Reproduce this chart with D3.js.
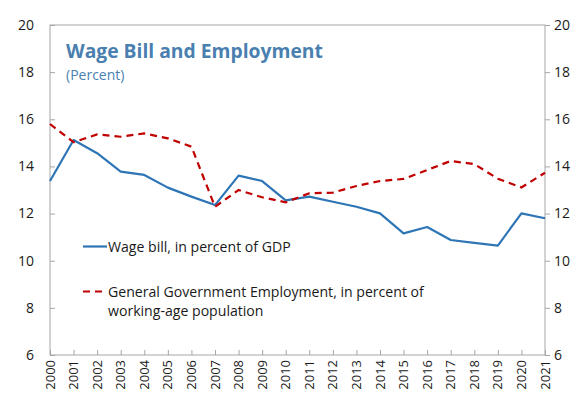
<!DOCTYPE html>
<html>
<head>
<meta charset="utf-8">
<script src="https://cdn.jsdelivr.net/npm/d3@7"></script>
<style>
  html, body { margin: 0; padding: 0; background: #fff; }
  svg { display: block; font-family: "Open Sans", "Noto Sans", sans-serif; }
</style>
</head>
<body>
<svg id="chart" width="581" height="399"></svg>
<script>
// Years on the horizontal axis
const years = d3.range(2000, 2022);

// Wage bill, in percent of GDP
const wageBill = [13.38, 15.12, 14.56, 13.78, 13.64, 13.10, 12.72, 12.36, 13.61, 13.38, 12.56,
                  12.72, 12.50, 12.29, 12.01, 11.16, 11.43, 10.88, 10.76, 10.64, 12.01, 11.80];

// General government employment, in percent of working-age population
const govEmployment = [15.80, 15.03, 15.36, 15.26, 15.40, 15.19, 14.84, 12.29, 13.00, 12.69, 12.48,
                       12.86, 12.89, 13.17, 13.38, 13.47, 13.85, 14.23, 14.10, 13.48, 13.11, 13.73];

// Value axis ticks
const yTicks = [6, 8, 10, 12, 14, 16, 18, 20];

const svg = d3.select("#chart");
const margin = { left: 50, right: 36, top: 25, bottom: 44 };
const W = 581, H = 399;
const x0 = margin.left, x1 = W - margin.right;
const y0 = H - margin.bottom, y1 = margin.top;

const x = d3.scaleLinear().domain([2000, 2021]).range([x0, x1]);
const y = d3.scaleLinear().domain([6, 20]).range([y0, y1]);

const axisColor = "#a6a6a6";
const textColor = "#1a1a1a";

// Frame
svg.append("rect")
  .attr("x", x0).attr("y", y1)
  .attr("width", x1 - x0).attr("height", y0 - y1)
  .attr("fill", "none").attr("stroke", axisColor).attr("stroke-width", 1);

// Left axis (ticks point into the plot)
const leftAxis = svg.append("g").attr("transform", `translate(${x0},0)`)
  .call(d3.axisRight(y).tickValues(yTicks).tickSize(5).tickFormat(""));
leftAxis.select(".domain").remove();
leftAxis.selectAll("line").attr("stroke", axisColor);
svg.append("g").selectAll("text").data(yTicks).join("text")
  .attr("x", x0 - 16).attr("y", d => y(d)).attr("dy", "0.35em")
  .attr("text-anchor", "end").attr("font-size", 14).attr("fill", textColor)
  .text(d => d);

// Right axis (ticks point outward)
const rightAxis = svg.append("g").attr("transform", `translate(${x1},0)`)
  .call(d3.axisRight(y).tickValues(yTicks).tickSize(5).tickFormat(""));
rightAxis.select(".domain").remove();
rightAxis.selectAll("line").attr("stroke", axisColor);
svg.append("g").selectAll("text").data(yTicks).join("text")
  .attr("x", x1 + 9).attr("y", d => y(d)).attr("dy", "0.35em")
  .attr("text-anchor", "start").attr("font-size", 14).attr("fill", textColor)
  .text(d => d);

// Bottom axis (ticks point up into the plot)
const bottomAxis = svg.append("g").attr("transform", `translate(0,${y0})`)
  .call(d3.axisTop(x).tickValues(years).tickSize(5).tickFormat(""));
bottomAxis.select(".domain").remove();
bottomAxis.selectAll("line").attr("stroke", axisColor);
svg.append("g").selectAll("text").data(years).join("text")
  .attr("transform", d => `translate(${x(d)},${y0 + 5}) rotate(-90)`)
  .attr("text-anchor", "end").attr("dy", "0.35em")
  .attr("font-size", 13).attr("fill", textColor)
  .text(d => d);

// Series lines
const line = (vals) => d3.line().x((d, i) => x(years[i])).y(d => y(d))(vals);
const blue = "#2e75b6", red = "#c00000";

svg.append("path").attr("d", line(wageBill))
  .attr("fill", "none").attr("stroke", blue).attr("stroke-width", 2.2)
  .attr("stroke-linejoin", "round");
svg.append("path").attr("d", line(govEmployment))
  .attr("fill", "none").attr("stroke", red).attr("stroke-width", 2.2)
  .attr("stroke-dasharray", "7,5");

// Title
const titleColor = "#4a7fb0";
svg.append("text").attr("x", 66).attr("y", 58)
  .attr("font-size", 19.3).attr("font-weight", "bold").attr("fill", titleColor)
  .text("Wage Bill and Employment");
svg.append("text").attr("x", 66).attr("y", 80)
  .attr("font-size", 14).attr("fill", titleColor)
  .text("(Percent)");

// Legend
const lg = svg.append("g");
lg.append("line").attr("x1", 83).attr("x2", 107).attr("y1", 246.5).attr("y2", 246.5)
  .attr("stroke", blue).attr("stroke-width", 2.2);
lg.append("text").attr("x", 108).attr("y", 251.5).attr("font-size", 14.1).attr("fill", textColor)
  .text("Wage bill, in percent of GDP");
lg.append("line").attr("x1", 83).attr("x2", 107).attr("y1", 291.5).attr("y2", 291.5)
  .attr("stroke", red).attr("stroke-width", 2.2).attr("stroke-dasharray", "7,5");
const t2 = lg.append("text").attr("x", 108).attr("y", 296.5).attr("font-size", 14.1).attr("fill", textColor);
t2.append("tspan").attr("x", 108).text("General Government Employment, in percent of");
t2.append("tspan").attr("x", 108).attr("dy", 19).text("working-age population");
</script>
</body>
</html>
